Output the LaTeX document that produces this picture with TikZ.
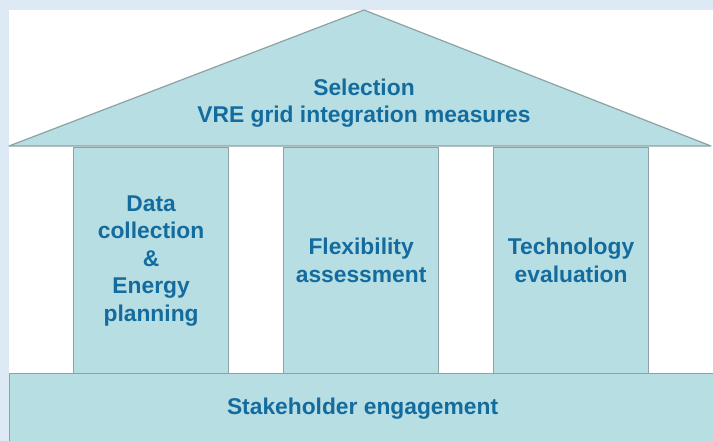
\documentclass[tikz,border=0pt]{standalone}
\usepackage{fontspec}
\setmainfont{Liberation Sans}
\usetikzlibrary{calc}
\definecolor{framebg}{RGB}{221,233,245}
\definecolor{pillarfill}{RGB}{183,222,226}
\definecolor{pillarline}{RGB}{140,162,164}
\definecolor{labeltext}{RGB}{20,108,158}
\pgfkeys{tikz/housepart/.style={fill=pillarfill,draw=pillarline,line width=1.2pt}}
\pgfkeys{tikz/houselabel/.style={text=labeltext,align=center,font=\bfseries\fontsize{22.8}{27.5}\selectfont}}
\pgfkeys{tikz/pillar/.style={housepart,houselabel,minimum width=155pt,minimum height=226pt,inner sep=0pt,anchor=north west}}
\newcommand*\housepillar[3]{
    \node[pillar] (#1) at (#2,147) {#3};
}

\begin{document}
\begin{tikzpicture}[x=1pt,y=-1pt]
    \useasboundingbox (0,0) rectangle (713,441);
    \clip (0,0) rectangle (713,441);
    \fill[framebg] (0,0) rectangle (713,441);
    \fill[white] (9,10) rectangle (713,441);
    % roof
    \coordinate (roofleft) at (9,146);
    \coordinate (rooftop) at (364,10);
    \coordinate (roofright) at (711,146);
    \draw[housepart,line join=round] (roofleft) -- (rooftop) -- (roofright) -- cycle;
    \node[houselabel] (selection) at (364,103) {Selection\\VRE grid integration measures};
    % pillars
    \housepillar{datacoll}{73}{Data\\collection\\\&\\Energy\\planning}
    \housepillar{flexibility}{283}{Flexibility\\assessment}
    \housepillar{technology}{493}{Technology\\evaluation}
    % base
    \node[housepart,houselabel,minimum width=706pt,minimum height=70pt,anchor=north west] (stakeholder) at (9,373) {Stakeholder engagement};
\end{tikzpicture}
\end{document}
